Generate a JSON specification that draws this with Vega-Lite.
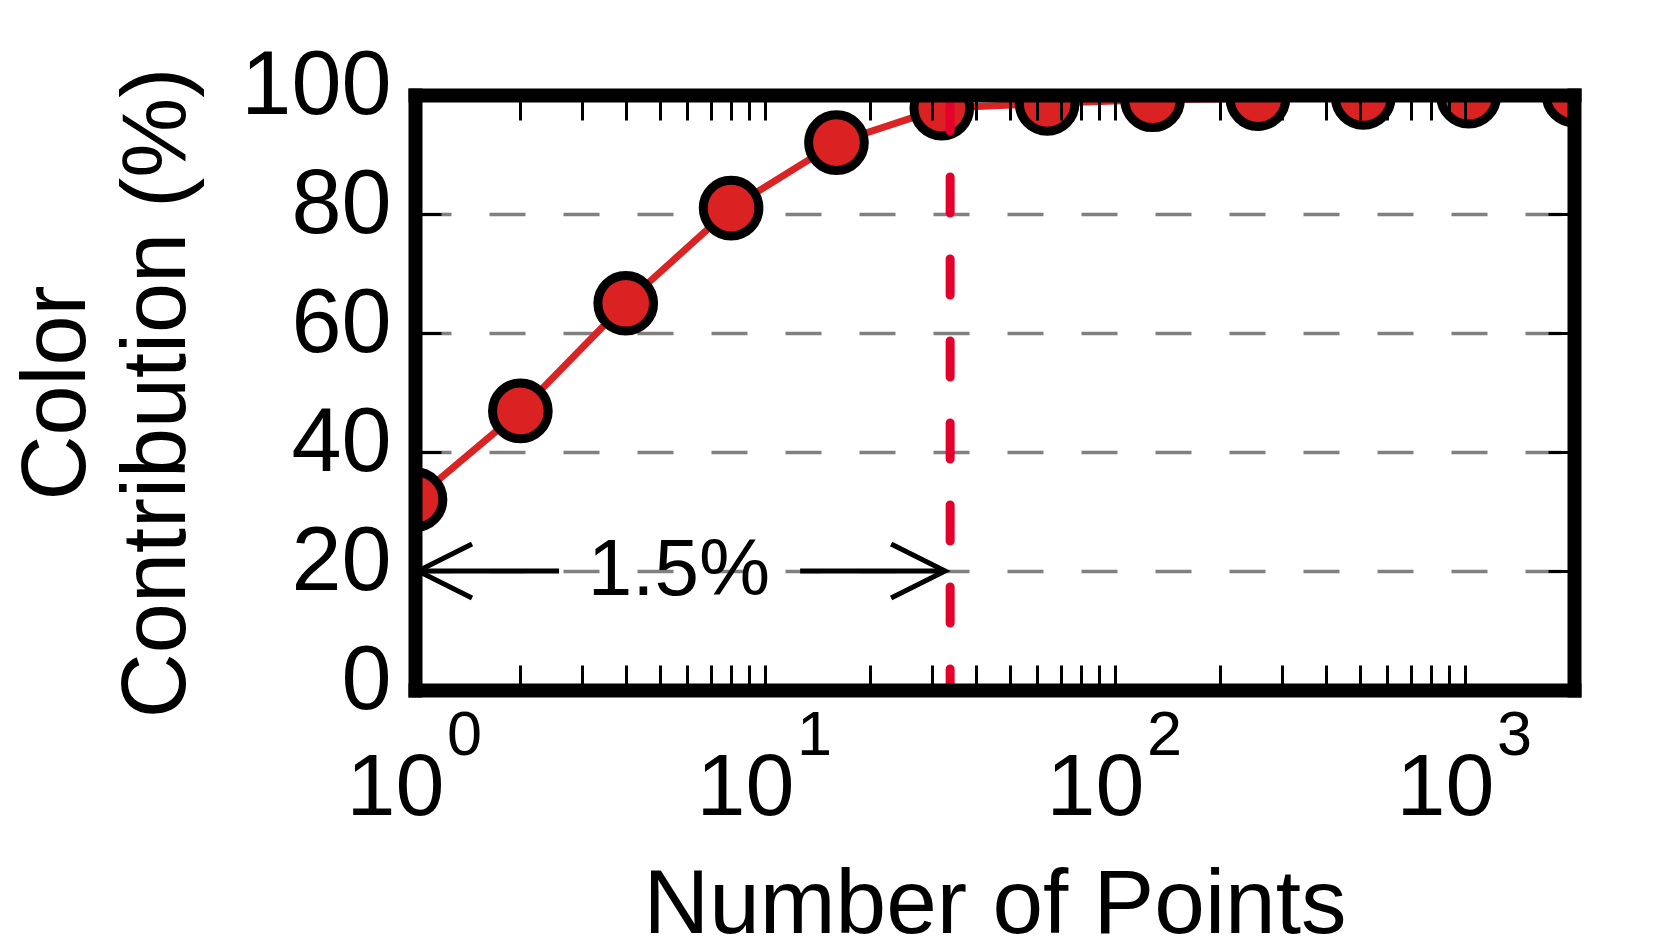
{
  "$schema": "https://vega.github.io/schema/vega-lite/v6.json",
  "width": 1159,
  "height": 595,
  "autosize": {"type": "none"},
  "padding": {"left": 415, "top": 95, "right": 87, "bottom": 262},
  "background": "white",
  "config": {
    "view": {"stroke": null},
    "font": "Liberation Sans",
    "axis": {"labelFont": "Liberation Sans", "titleFont": "Liberation Sans", "labelColor": "black", "titleColor": "black", "titleFontWeight": "normal"}
  },
  "datasets": {
    "main": [
      {"points": 1, "contribution": 32.0},
      {"points": 2, "contribution": 46.9},
      {"points": 4, "contribution": 65.0},
      {"points": 8, "contribution": 81.0},
      {"points": 16, "contribution": 92.0},
      {"points": 32, "contribution": 97.8},
      {"points": 64, "contribution": 98.6},
      {"points": 128, "contribution": 99.2},
      {"points": 256, "contribution": 99.4},
      {"points": 512, "contribution": 99.6},
      {"points": 1024, "contribution": 99.8},
      {"points": 2048, "contribution": 100}
    ],
    "cutoff": [{"x": 33.8, "top": 100, "bottom": 0}],
    "arrows": [{"x1": 1.02, "x2": 2.58, "y": 20}, {"x1": 12.6, "x2": 32.7, "y": 20}],
    "heads": [{"x": 1.02, "y": 20, "dir": "left"}, {"x": 32.7, "y": 20, "dir": "right"}],
    "note": [{"x": 5.68, "y": 20, "label": "1.5%"}]
  },
  "layer": [
    {
      "data": {"name": "main"},
      "mark": {"type": "line", "color": "#DA2424", "strokeWidth": 7, "clip": true},
      "encoding": {
        "x": {"field": "points", "type": "quantitative",
          "scale": {"type": "log", "domain": [1, 2048], "nice": false},
          "axis": {"orient": "bottom", "values": [1,2,3,4,5,6,7,8,9,10,20,30,40,50,60,70,80,90,100,200,300,400,500,600,700,800,900,1000,2000],
            "labels": false, "ticks": true, "tickSize": -25, "tickWidth": 3, "tickColor": "black",
            "domain": true, "domainColor": "black", "domainWidth": 14, "domainCap": "square",
            "grid": false, "title": null, "zindex": 2}},
        "y": {"field": "contribution", "type": "quantitative",
          "scale": {"domain": [0, 100], "nice": false},
          "axis": {"orient": "left", "values": [0,20,40,60,80,100], "labels": false,
            "tickSize": -26, "tickWidth": 3, "tickColor": "black",
            "domain": true, "domainColor": "black", "domainWidth": 14, "domainCap": "square",
            "grid": false, "title": null, "zindex": 2}}
      }
    },
    {
      "data": {"name": "main"},
      "mark": {"type": "point", "filled": true, "fill": "#DA2222", "stroke": "black", "strokeWidth": 9, "size": 3100, "opacity": 1, "fillOpacity": 1, "clip": true},
      "encoding": {
        "x": {"field": "points", "type": "quantitative",
          "scale": {"type": "log", "domain": [1, 2048], "nice": false},
          "axis": {"orient": "top", "values": [1,2,3,4,5,6,7,8,9,10,20,30,40,50,60,70,80,90,100,200,300,400,500,600,700,800,900,1000,2000],
            "labels": false, "ticks": true, "tickSize": -25, "tickWidth": 3, "tickColor": "black",
            "domain": true, "domainColor": "black", "domainWidth": 14, "domainCap": "square",
            "grid": false, "title": null, "zindex": 2}},
        "y": {"field": "contribution", "type": "quantitative",
          "scale": {"domain": [0, 100], "nice": false},
          "axis": {"orient": "right", "values": [0,20,40,60,80,100], "labels": false,
            "tickSize": -26, "tickWidth": 3, "tickColor": "black",
            "domain": true, "domainColor": "black", "domainWidth": 14, "domainCap": "square",
            "grid": false, "title": null, "zindex": 2}}
      }
    },
    {
      "data": {"name": "cutoff"},
      "mark": {"type": "rule", "color": "#E4002B", "strokeWidth": 9, "strokeDash": [36, 46], "strokeCap": "round"},
      "encoding": {
        "x": {"field": "x", "type": "quantitative",
          "scale": {"type": "log", "domain": [1, 2048], "nice": false},
          "axis": {"orient": "bottom", "values": [1, 10, 100, 1000], "labelExpr": "'10'",
            "ticks": false, "tickSize": 0, "domain": false, "grid": false,
            "labelFontSize": 88, "labelOffset": -20, "labelBaseline": "alphabetic", "labelAlign": "center",
            "labelPadding": 124, "labelFlush": false, "labelOverlap": false, "labelBound": false,
            "title": "Number of Points", "titleFontSize": 91, "titleBaseline": "alphabetic", "titleY": 242, "zindex": 0}},
        "y": {"field": "top", "type": "quantitative",
          "scale": {"domain": [0, 100], "nice": false},
          "axis": {"orient": "left", "values": [0,20,40,60,80,100],
            "ticks": false, "tickSize": 0, "domain": false,
            "grid": true, "gridColor": "#808080", "gridWidth": 3.5, "gridDash": [36, 38],
            "labelFontSize": 90, "labelPadding": 24, "labelBaseline": "middle", "labelOffset": -9,
            "labelOverlap": false, "labelBound": false,
            "title": ["Color", "Contribution (%)"], "titleFontSize": 90, "titleLineHeight": 100,
            "titleBaseline": "alphabetic", "titleAlign": "center", "titleAngle": -90, "titleX": -331, "zindex": 0}},
        "y2": {"field": "bottom"}
      }
    },
    {
      "data": {"name": "arrows"},
      "mark": {"type": "rule", "color": "black", "strokeWidth": 5},
      "encoding": {
        "x": {"field": "x1", "type": "quantitative",
          "scale": {"type": "log", "domain": [1, 2048], "nice": false},
          "axis": {"orient": "bottom", "values": [1, 10, 100, 1000],
            "labelExpr": "'' + round(log(datum.value) / LN10)",
            "ticks": false, "tickSize": 0, "domain": false, "grid": false,
            "labelFontSize": 63, "labelOffset": 49, "labelBaseline": "alphabetic", "labelAlign": "center",
            "labelPadding": 64, "labelFlush": false, "labelOverlap": false, "labelBound": false,
            "title": null, "zindex": 0}},
        "x2": {"field": "x2"},
        "y": {"field": "y", "type": "quantitative", "scale": {"domain": [0, 100], "nice": false}, "axis": null}
      }
    },
    {
      "data": {"name": "heads"},
      "mark": {"type": "point", "filled": false, "stroke": "black", "strokeWidth": 5, "size": 2916, "opacity": 1, "strokeJoin": "miter"},
      "encoding": {
        "x": {"field": "x", "type": "quantitative", "scale": {"type": "log", "domain": [1, 2048], "nice": false}, "axis": null},
        "y": {"field": "y", "type": "quantitative", "scale": {"domain": [0, 100], "nice": false}, "axis": null},
        "shape": {"field": "dir", "type": "nominal", "scale": {"domain": ["left", "right"], "range": ["M2,-1L0,0L2,1", "M-2,-1L0,0L-2,1"]}, "legend": null}
      }
    },
    {
      "data": {"name": "note"},
      "mark": {"type": "text", "font": "Liberation Sans", "fontSize": 80, "align": "center", "baseline": "middle", "color": "black"},
      "encoding": {
        "x": {"field": "x", "type": "quantitative", "scale": {"type": "log", "domain": [1, 2048], "nice": false}, "axis": null},
        "y": {"field": "y", "type": "quantitative", "scale": {"domain": [0, 100], "nice": false}, "axis": null},
        "text": {"field": "label"}
      }
    }
  ],
  "resolve": {"axis": {"x": "independent", "y": "independent"}}
}
